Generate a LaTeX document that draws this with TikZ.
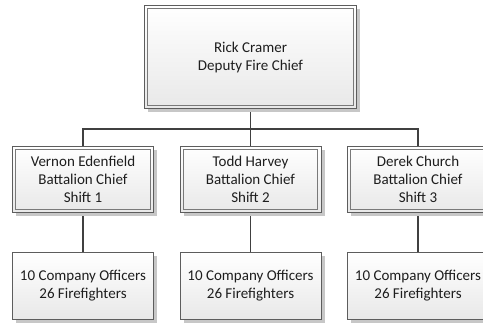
\documentclass[tikz,border=0pt]{standalone}
\usepackage{fontspec}
\setmainfont{Carlito}
\usetikzlibrary{shadows,backgrounds}
\definecolor{linec}{HTML}{404040}
\definecolor{txtc}{HTML}{1E1E1E}
\tikzset{
  basebox/.style={draw=linec!85, line width=1pt,
    top color=white, bottom color=black!9, align=center, inner sep=0pt,
    text=txtc, font=\fontsize{15}{18}\selectfont,
    drop shadow={shadow xshift=3.5pt, shadow yshift=-3.5pt, fill=black!22, opacity=1}},
  midbox/.style={basebox, minimum width=141pt, minimum height=66pt},
  topbox/.style={basebox, minimum width=212pt, minimum height=103pt},
  lowbox/.style={basebox, minimum width=141pt, minimum height=67pt},
  innerline/.style={draw=linec!70, line width=0.9pt},
  conn/.style={draw=linec, line width=1.8pt}
}
\begin{document}
\begin{tikzpicture}[x=1pt,y=-1pt]
\useasboundingbox (0,0) rectangle (483,327);
\clip (0,0) rectangle (483,327);
\node[topbox] (top) at (250.5,57) {Rick Cramer\\Deputy Fire Chief};
\node[midbox] (b1) at (83,179.5) {Vernon Edenfield\\Battalion Chief\\Shift 1};
\node[midbox] (b2) at (250.5,179.5) {Todd Harvey\\Battalion Chief\\Shift 2};
\node[midbox] (b3) at (418,179.5) {Derek Church\\Battalion Chief\\Shift 3};
\node[lowbox] (c1) at (83,286) {10 Company Officers\\26 Firefighters};
\node[lowbox] (c2) at (250.5,286) {10 Company Officers\\26 Firefighters};
\node[lowbox] (c3) at (418,286) {10 Company Officers\\26 Firefighters};
\foreach \n in {top,b1,b2,b3}
  \draw[innerline] ([xshift=3.8pt,yshift=-3.8pt]\n.north west) rectangle ([xshift=-3.8pt,yshift=3.8pt]\n.south east);
\coordinate (bar) at (0,129);
\begin{pgfonlayer}{background}
\draw[conn] (top.south) -- (top.south |- bar);
\draw[conn] (b1.north) -- (b1.north |- bar) -- (b3.north |- bar) -- (b3.north);
\draw[conn] (b2.north) -- (b2.north |- bar);
\draw[conn] (b1.south) -- (c1.north);
\draw[conn] (b2.south) -- (c2.north);
\draw[conn] (b3.south) -- (c3.north);
\end{pgfonlayer}
\end{tikzpicture}
\end{document}
